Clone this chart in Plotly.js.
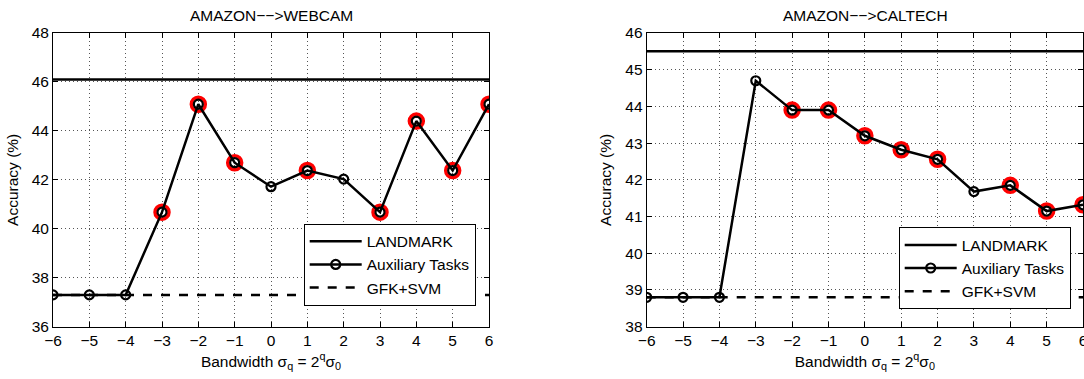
<!DOCTYPE html>
<html><head><meta charset="utf-8">
<script src="https://cdn.plot.ly/plotly-3.0.1.min.js"></script>
<style>html,body{margin:0;padding:0;background:#fff}</style>
</head><body><div id="chart" style="width:1084px;height:379px"></div>
<script>
// ---- data ----
const bandwidth = [-6,-5,-4,-3,-2,-1,0,1,2,3,4,5,6];
const xRange = [-6, 6];
const webcamTitle = "AMAZON\u2212\u2212>WEBCAM";
const webcamAux = [37.3,37.3,37.3,40.68,45.09,42.7,41.72,42.38,42.03,40.68,44.4,42.38,45.09];
const webcamHighlight = [0,0,0,1,1,1,0,1,0,1,1,1,1];
const webcamLandmark = 46.1;
const webcamGfk = 37.3;
const webcamYTicks = [36,38,40,42,44,46,48];
const caltechTitle = "AMAZON\u2212\u2212>CALTECH";
const caltechAux = [38.8,38.8,38.8,44.7,43.9,43.9,43.2,42.82,42.56,41.68,41.85,41.15,41.32];
const caltechHighlight = [0,0,0,0,1,1,1,1,1,0,1,1,1];
const caltechLandmark = 45.5;
const caltechGfk = 38.8;
const caltechYTicks = [38,39,40,41,42,43,44,45,46];
const seriesNames = ["LANDMARK","Auxiliary Tasks","GFK+SVM"];

const FONT = {family: "Liberation Sans, Arial, sans-serif", size: 15.5, color: "#000"};
const TICKFONT = {family: "Liberation Sans, Arial, sans-serif", size: 15.5, color: "#000"};

function panel(xa, ya, leg, aux, hl, lm, gfk) {
  const hx = bandwidth.filter((_, i) => hl[i]);
  const hy = aux.filter((_, i) => hl[i]);
  return [
    {x: xRange, y: [lm, lm], xaxis: xa, yaxis: ya, legend: leg, name: seriesNames[0], mode: "lines",
     line: {color: "#000", width: 2.5}},
    {x: hx, y: hy, xaxis: xa, yaxis: ya, legend: leg, showlegend: false, mode: "markers", hoverinfo: "skip",
     marker: {symbol: "circle-open", size: 14, line: {color: "#ff0000", width: 3.5}, color: "#ff0000"}},
    {x: bandwidth, y: aux, xaxis: xa, yaxis: ya, legend: leg, name: seriesNames[1], mode: "lines+markers",
     line: {color: "#000", width: 2.5},
     marker: {symbol: "circle-open", size: 9, color: "#000", line: {color: "#000", width: 2.2}}},
    {x: xRange, y: [gfk, gfk], xaxis: xa, yaxis: ya, legend: leg, name: seriesNames[2], mode: "lines",
     line: {color: "#000", width: 2.5, dash: "dash"}}
  ];
}

const data = [].concat(
  panel("x", "y", "legend", webcamAux, webcamHighlight, webcamLandmark, webcamGfk),
  panel("x2", "y2", "legend2", caltechAux, caltechHighlight, caltechLandmark, caltechGfk)
);

const W = 1084, H = 379;
const yDom = [(H - 326.7) / H, (H - 33) / H];
function xaxis(dom) {
  return {domain: dom, range: xRange, tickvals: bandwidth, ticks: "inside", ticklen: 5, tickcolor: "#000",
    showline: true, linecolor: "#000", linewidth: 1, mirror: "ticks", zeroline: false,
    showgrid: true, gridcolor: "#555", griddash: "1px,3px", gridwidth: 1,
    tickfont: TICKFONT, automargin: false, ticklabeloverflow: "allow",
    title: {text: "Bandwidth \u03c3<sub>q</sub> = 2<sup>q</sup>\u03c3<sub>0</sub>", font: FONT, standoff: 7}};
}
function yaxis(anchor, range, ticks) {
  return {domain: yDom, anchor: anchor, range: range, tickvals: ticks, ticks: "inside", ticklen: 5, tickcolor: "#000",
    showline: true, linecolor: "#000", linewidth: 1, mirror: "ticks", zeroline: false,
    showgrid: true, gridcolor: "#555", griddash: "1px,3px", gridwidth: 1,
    tickfont: TICKFONT, automargin: false, ticklabeloverflow: "allow",
    title: {text: "Accuracy (%)", font: FONT, standoff: 9}};
}
const legendStyle = {bgcolor: "#fff", bordercolor: "#000", borderwidth: 1, font: FONT,
  xanchor: "right", yanchor: "bottom", tracegroupgap: 0, itemwidth: 52};

const layout = {
  width: W, height: H, margin: {l: 0, r: 0, t: 0, b: 0},
  paper_bgcolor: "#fff", plot_bgcolor: "#fff", font: FONT, showlegend: true,
  xaxis: Object.assign(xaxis([53 / W, 489 / W]), {anchor: "y"}),
  yaxis: yaxis("x", [36, 48], webcamYTicks),
  xaxis2: Object.assign(xaxis([646.7 / W, 1083 / W]), {anchor: "y2"}),
  yaxis2: yaxis("x2", [38, 46], caltechYTicks),
  legend: Object.assign({x: 475.7 / W, y: (H - 305.7) / H}, legendStyle),
  legend2: Object.assign({x: 1070.7 / W, y: (H - 309.3) / H}, legendStyle),
  annotations: [
    {text: webcamTitle, xref: "paper", yref: "paper", x: 271 / W, y: (H - 15) / H, showarrow: false, font: FONT, xanchor: "center", yanchor: "middle"},
    {text: caltechTitle, xref: "paper", yref: "paper", x: 865 / W, y: (H - 15) / H, showarrow: false, font: FONT, xanchor: "center", yanchor: "middle"}
  ]
};
Plotly.newPlot("chart", data, layout, {displayModeBar: false, staticPlot: true});
</script></body></html>
